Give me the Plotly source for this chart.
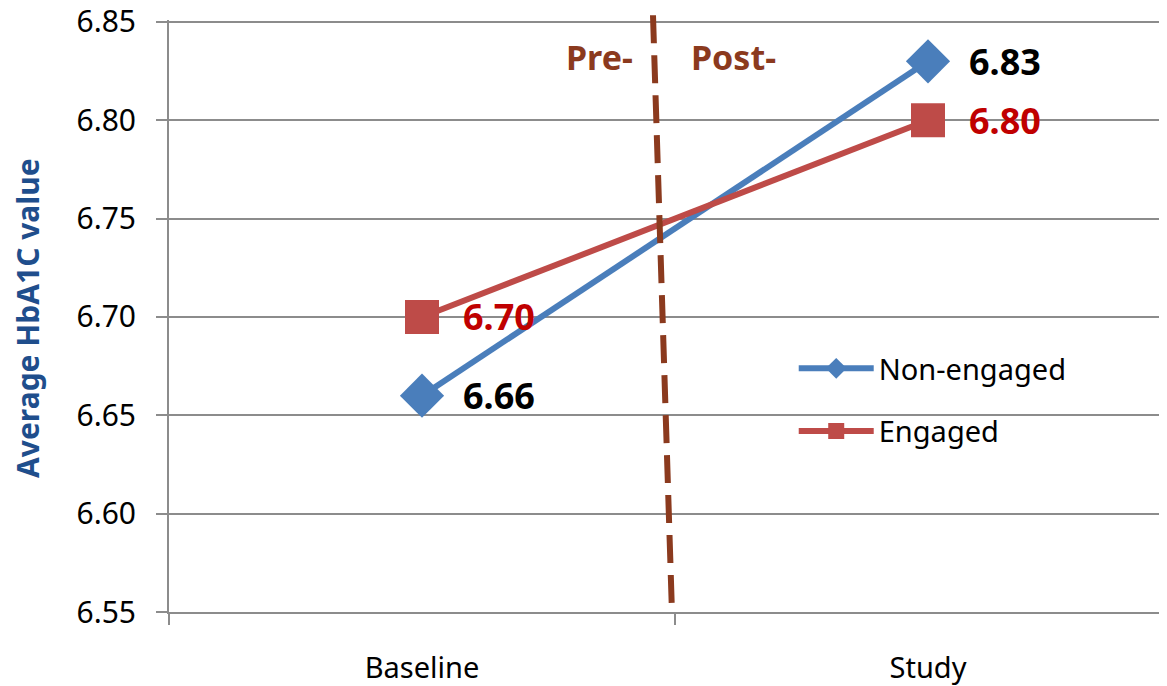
import plotly.graph_objects as go

categories = ["Baseline", "Study"]
non_engaged = [6.66, 6.83]
engaged = [6.70, 6.80]
y_ticks = [6.55, 6.60, 6.65, 6.70, 6.75, 6.80, 6.85]

x_idx = list(range(len(categories)))
FONT = "Noto Sans"
BLUE = "#4A7EBB"
RED = "#BE4B48"
BROWN = "#8B3A1E"
GRID = "#8C8C8C"

L, T, B = 161, 12, 82
W, H = 1167, 686
PLOT_W = W - L
CAT_PX = 506

fig = go.Figure()
fig.add_trace(go.Scatter(
    x=x_idx, y=non_engaged, name="Non-engaged", mode="lines+markers",
    line=dict(color=BLUE, width=6),
    marker=dict(symbol="diamond", size=34, color=BLUE),
    legendgroup="a",
))
fig.add_trace(go.Scatter(
    x=x_idx, y=engaged, name="Engaged", mode="lines+markers",
    line=dict(color=RED, width=6),
    marker=dict(symbol="square", size=34, color=RED),
    legendgroup="b",
))

# data labels
for xs, ys, col in [(x_idx, non_engaged, "#000000"), (x_idx, engaged, "#C00000")]:
    for xv, yv in zip(xs, ys):
        fig.add_annotation(x=xv, y=yv, text=f"{yv:.2f}", showarrow=False,
                           xanchor="left", yanchor="middle", xshift=39, yshift=0,
                           font=dict(family=FONT, size=36, color=col, weight="bold"))

# pre/post divider
fig.add_shape(type="line", xref="x", yref="paper", x0=0.4565, x1=0.494, y0=1.008, y1=0.0,
              line=dict(color=BROWN, width=6, dash="28px,12px"))
fig.add_annotation(xref="x", yref="paper", x=0.4565, y=0.98, text="Pre-", showarrow=False,
                   xanchor="right", xshift=-18,
                   font=dict(family=FONT, size=34, color=BROWN, weight="bold"))
fig.add_annotation(xref="x", yref="paper", x=0.4565, y=0.98, text="Post-", showarrow=False,
                   xanchor="left", xshift=36,
                   font=dict(family=FONT, size=34, color=BROWN, weight="bold"))

# y-axis title
fig.add_annotation(xref="paper", yref="paper", x=-0.140, y=0.497, text="Average HbA1C value",
                   textangle=-90, showarrow=False, xanchor="center", yanchor="middle",
                   font=dict(family=FONT, size=30, color="#1F4E8C", weight="bold"))

fig.update_layout(
    width=W, height=H,
    margin=dict(l=L, r=0, t=T, b=B),
    plot_bgcolor="white", paper_bgcolor="white",
    font=dict(family=FONT, color="#000000"),
    legend=dict(x=0.621, y=0.4544, xanchor="left", yanchor="top",
                font=dict(family=FONT, size=29), itemwidth=75,
                tracegroupgap=22, bgcolor="rgba(0,0,0,0)"),
    showlegend=True,
)
fig.update_xaxes(
    range=[-0.5, -0.5 + PLOT_W / CAT_PX],
    tickvals=x_idx, ticktext=categories, ticks="",
    tickfont=dict(family=FONT, size=29),
    ticklabelstandoff=29,
    automargin=False,
    showgrid=False, zeroline=False,
    showline=True, linecolor=GRID, linewidth=2,
    minor=dict(tickvals=[-0.5, 0.5], ticks="outside", ticklen=11, tickwidth=2, tickcolor=GRID, showgrid=False),
)
fig.update_yaxes(
    range=[6.55, 6.851], tickvals=y_ticks, ticktext=[f"{v:.2f}" for v in y_ticks],
    ticks="outside", ticklen=11, tickwidth=2, tickcolor=GRID,
    tickfont=dict(family=FONT, size=30),
    ticklabelstandoff=14, ticklabeloverflow="allow",
    automargin=False,
    showgrid=True, gridcolor=GRID, gridwidth=2, zeroline=False,
    showline=True, linecolor=GRID, linewidth=2,
)

fig.write_html("out.html")
